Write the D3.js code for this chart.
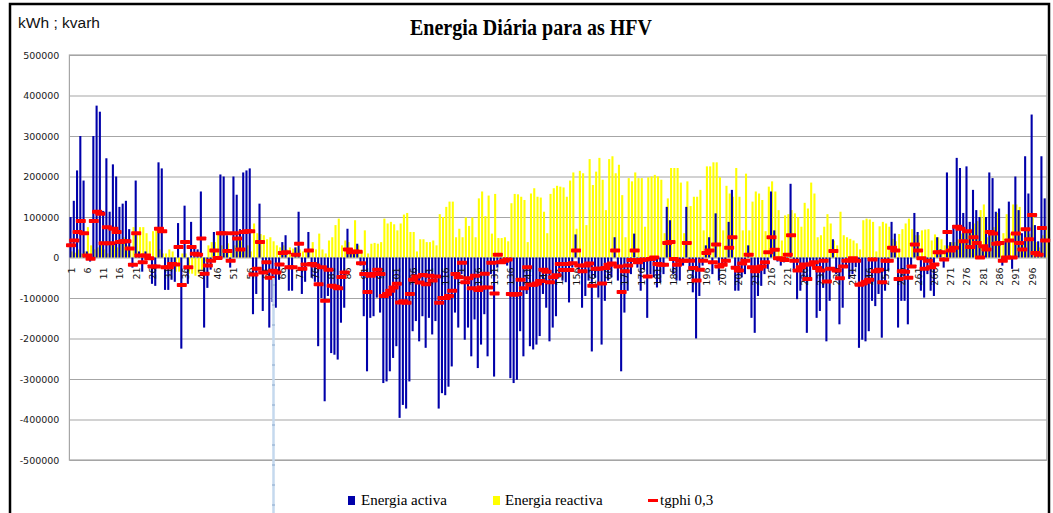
<!DOCTYPE html>
<html><head><meta charset="utf-8">
<script src="https://cdn.jsdelivr.net/npm/d3@7"></script>
<style>html,body{margin:0;padding:0;background:#fff;overflow:hidden}svg{display:block}</style>
</head><body>
<svg id="c" width="1053" height="513"></svg>
<script>
// Daily energy, values in thousands (kWh / kvarh)
const activeK = [
100,140,215,300,190,15,-10,300,375,360,
115,245,113,230,200,125,133,140,70,-25,
190,15,-35,15,-5,-65,-70,235,220,-80,
-80,-55,-60,85,-225,128,-65,88,30,20,
163,-173,-75,-30,63,-5,205,200,55,-25,
200,155,70,210,215,220,-140,-90,133,-132,
-40,-173,-110,-124,-55,38,55,-82,-82,25,
113,-90,-60,63,-50,-60,-219,-100,-355,-95,
-236,-240,-252,-161,-124,71,20,15,34,-20,
-145,-281,-149,-145,-99,-136,-310,-306,-281,-248,
-219,-396,-364,-373,-306,-182,-157,-207,-145,-223,
-149,-190,-157,-373,-335,-340,-319,-269,-136,-173,
-41,-203,-173,-244,-153,-273,-215,-140,-244,-41,
-294,-25,-15,-12,-20,-298,-310,-302,-182,-244,
-90,-219,-227,-215,-194,-90,-124,-207,-173,-145,
-49,-57,-61,-111,-25,57,-40,-124,-95,-57,
-232,-50,-99,-215,-107,-57,-49,50,-57,-281,
-136,-82,-41,59,-25,-82,-30,-149,-41,-49,
-74,-61,-41,125,92,-41,-57,-57,-20,125,
-30,-86,-200,-95,-20,30,50,-41,109,-57,
-24,-16,88,167,-82,-82,-49,-41,30,-149,
-186,-95,-70,-41,-28,163,67,-10,-20,-12,
-8,182,-30,-103,-82,-57,-186,-57,-25,-149,
-132,-75,-207,-107,45,-41,-165,-124,-24,-53,
-41,-24,-223,-203,-207,-182,-107,-120,-90,-198,
-82,-32,88,59,-173,-107,-107,-165,-24,110,
63,-82,-99,-41,-82,-95,50,20,-25,210,
38,80,246,221,110,225,88,167,117,100,
20,100,210,196,113,121,-20,40,138,-28,
200,117,60,250,158,353,80,40,250,146
];
const reactiveK = [
15,12,20,10,15,75,30,20,25,40,
20,10,40,30,25,45,50,30,20,75,
60,75,75,60,40,65,70,20,10,10,
20,15,-35,-35,10,10,-40,-40,-45,-40,
-30,-10,30,38,38,63,30,20,35,15,
30,45,40,20,30,15,84,60,58,55,
45,50,40,30,25,30,20,25,22,25,
20,15,20,15,38,20,59,20,10,42,
50,80,96,30,42,38,20,92,30,15,
67,10,34,36,34,38,96,84,88,82,
67,84,106,110,63,63,15,45,45,38,
38,42,30,107,100,125,138,138,50,71,
50,99,78,99,50,146,163,102,153,59,
157,48,48,50,40,134,157,156,150,142,
38,158,171,150,148,113,60,157,171,177,
175,173,150,190,210,71,214,208,80,243,
179,212,246,192,117,243,250,208,229,154,
50,196,188,210,196,196,76,198,200,204,
200,192,60,146,221,221,221,185,60,188,
127,150,150,167,67,225,225,235,235,198,
67,177,158,150,221,150,67,207,67,138,
163,158,142,65,175,188,163,117,42,104,
107,117,109,100,76,135,121,185,158,50,
55,76,107,84,42,30,113,55,50,46,
42,35,20,92,96,94,88,15,77,88,
84,76,46,40,58,70,84,96,70,55,
55,67,69,70,42,57,50,45,30,30,
38,38,45,59,67,67,71,84,90,117,
131,50,60,75,110,30,60,107,60,131,
131,125,35,70,59,100,38,25,55,75
];
const tgphiK = [
30,42,63,90,60,5,-3,90,113,108,
35,75,35,71,63,38,40,40,22,-18,
60,5,-12,5,-2,-22,-22,71,65,-24,
-24,-16,-17,26,-68,38,-24,26,9,7,
47,-40,-20,-8,17,-1,60,60,16,-8,
60,47,20,63,65,65,-42,-28,38,-37,
-12,-50,-33,-37,-17,11,13,-24,-24,7,
34,-28,-17,17,-16,-20,-66,-24,-107,-30,
-70,-72,-76,-48,-37,20,13,15,14,-14,
-41,-85,-45,-41,-30,-41,-95,-90,-82,-74,
-65,-111,-108,-112,-90,-55,-47,-62,-43,-66,
-45,-57,-47,-112,-100,-100,-95,-82,-41,-49,
-13,-61,-51,-76,-45,-80,-74,-40,-74,-13,
-89,7,-12,-8,-5,-90,-92,-90,-55,-76,
-24,-67,-67,-64,-58,-30,-35,-61,-49,-44,
-16,-31,-16,-31,-14,17,-20,-34,-20,-15,
-70,-28,-28,-64,-26,-18,-15,17,-22,-85,
-34,-20,-6,17,-12,-6,-5,-47,-4,0,
-16,-18,-18,36,38,-4,-18,-8,-8,36,
-8,-26,-57,-30,-8,11,17,-12,32,-22,
-18,-8,24,50,-25,-32,-15,-8,7,-24,
-34,-28,-22,-12,13,50,19,-2,-3,-6,
7,55,-8,-32,-24,-17,-53,-17,-12,-26,
-32,-8,-59,-28,16,-32,-51,-22,-8,-7,
-2,-8,-67,-64,-60,-55,-5,-34,-30,-61,
-8,-8,24,17,-53,-34,-35,-50,-22,32,
17,-2,-28,-8,-24,-17,13,13,-5,63,
17,24,76,71,40,65,26,50,36,0,
28,20,63,59,34,36,-8,0,42,0,
59,36,20,70,45,105,11,7,73,42
];
const categories = d3.range(1, 301);
const xTickLabels = [1,6,11,16,21,26,31,36,41,46,51,56,61,66,71,76,81,86,91,96,
  101,106,111,116,121,126,131,136,141,146,151,156,161,166,171,176,181,186,191,196,
  201,206,211,216,221,226,231,236,241,246,251,256,261,266,271,276,281,286,291,296];
const yTicks = [500000,400000,300000,200000,100000,0,-100000,-200000,-300000,-400000,-500000];
const seriesNames = ["Energia activa","Energia reactiva","tgphi 0,3"];
const colors = {active:"#0000aa", reactive:"#ffff00", tg:"#ff0000"};

const active = activeK.map(v => v*1000);
const reactive = reactiveK.map(v => v*1000);
const tgphi = tgphiK.map(v => v*1000);

const SERIF = "'Liberation Serif', 'Times New Roman', serif";
const SANS = "'DejaVu Sans', Verdana, sans-serif";

const svg = d3.select("#c");
const P = {l:69.4, r:1046.8, t:55, b:460};
const x = d3.scaleBand().domain(categories).range([P.l, P.r]).padding(0);
const bw = x.bandwidth();
const barW = bw * 0.64, offA = bw * 0.03, offR = bw * 0.36;
const y = d3.scaleLinear().domain([-500000, 500000]).range([P.b, P.t]);

// outer frame
svg.append("rect").attr("x",10).attr("y",4).attr("width",1039).attr("height",560)
  .attr("fill","none").attr("stroke","#000").attr("stroke-width",2.5);

// titles
svg.append("text").attr("x",531).attr("y",35).attr("text-anchor","middle")
  .style("font-family",SERIF).attr("font-weight","bold")
  .attr("font-size",24).attr("textLength",242).attr("lengthAdjust","spacingAndGlyphs")
  .text("Energia Diária para as HFV");
svg.append("text").attr("x",18).attr("y",28)
  .style("font-family","'Liberation Sans Narrow', 'Liberation Sans', Arial, sans-serif")
  .attr("font-size",14).attr("textLength",82).attr("lengthAdjust","spacingAndGlyphs")
  .attr("fill","#111")
  .text("kWh ; kvarh");

// y axis + gridlines
const gy = svg.append("g").attr("transform",`translate(${P.l},0)`)
  .call(d3.axisLeft(y).tickValues(yTicks).tickSize(-(P.r-P.l)).tickPadding(10).tickFormat(d => String(d)));
gy.select(".domain").remove();
gy.selectAll(".tick line").attr("stroke","#a6a6a6").attr("stroke-width",1.2);
gy.selectAll(".tick text").style("font-family",SANS)
  .attr("font-size",9.5).attr("fill","#1a1a1a");
// plot frame
svg.append("rect").attr("x",P.l).attr("y",P.t).attr("width",P.r-P.l).attr("height",P.b-P.t)
  .attr("fill","none").attr("stroke","#a6a6a6").attr("stroke-width",1.2);

// bars (reactive first, active drawn over it)
const bars = svg.append("g");
bars.selectAll("rect.r").data(reactive).join("rect").attr("class","r")
  .attr("x",(d,i)=>x(categories[i])+offR).attr("width",barW)
  .attr("y",d=>Math.min(y(d),y(0))).attr("height",d=>Math.abs(y(d)-y(0)))
  .attr("fill",colors.reactive);
bars.selectAll("rect.a").data(active).join("rect").attr("class","a")
  .attr("x",(d,i)=>x(categories[i])+offA).attr("width",barW)
  .attr("y",d=>Math.min(y(d),y(0))).attr("height",d=>Math.abs(y(d)-y(0)))
  .attr("fill",colors.active);

// x labels
const y0 = y(0);
svg.append("g").selectAll("text").data(xTickLabels).join("text")
  .attr("transform",d=>`translate(${x(d)+bw/2},${y0+10}) rotate(-90)`)
  .attr("text-anchor","end").attr("dominant-baseline","central")
  .style("font-family",SANS).attr("font-size",9.5).attr("fill","#111")
  .text(d=>d);

// tgphi markers
svg.append("g").selectAll("rect").data(tgphi).join("rect")
  .attr("x",(d,i)=>x(categories[i])+bw/2-5).attr("width",10)
  .attr("y",d=>y(d)-2).attr("height",4).attr("rx",0.8)
  .attr("fill",colors.tg);

// cursor-like light blue line
svg.append("line").attr("x1",273.5).attr("x2",273.5).attr("y1",278).attr("y2",513)
  .attr("stroke","#c5d9ee").attr("stroke-width",2.5);
svg.append("g").selectAll("line").data(d3.range(285,513,20)).join("line")
  .attr("x1",272).attr("x2",275).attr("y1",d=>d).attr("y2",d=>d).attr("stroke","#8aa8cc").attr("stroke-width",1);

// legend
const lg = svg.append("g");
lg.append("rect").attr("x",348).attr("y",496).attr("width",7).attr("height",9).attr("fill",colors.active);
lg.append("text").attr("x",361).attr("y",505).text(seriesNames[0]);
lg.append("rect").attr("x",493).attr("y",496).attr("width",7).attr("height",9).attr("fill",colors.reactive);
lg.append("text").attr("x",505).attr("y",505).text(seriesNames[1]);
lg.append("rect").attr("x",648).attr("y",499).attr("width",10).attr("height",3).attr("fill",colors.tg);
lg.append("text").attr("x",660).attr("y",505).text(seriesNames[2]);
lg.selectAll("text").style("font-family",SERIF).attr("font-size",15).attr("fill","#000");
</script>
</body></html>
